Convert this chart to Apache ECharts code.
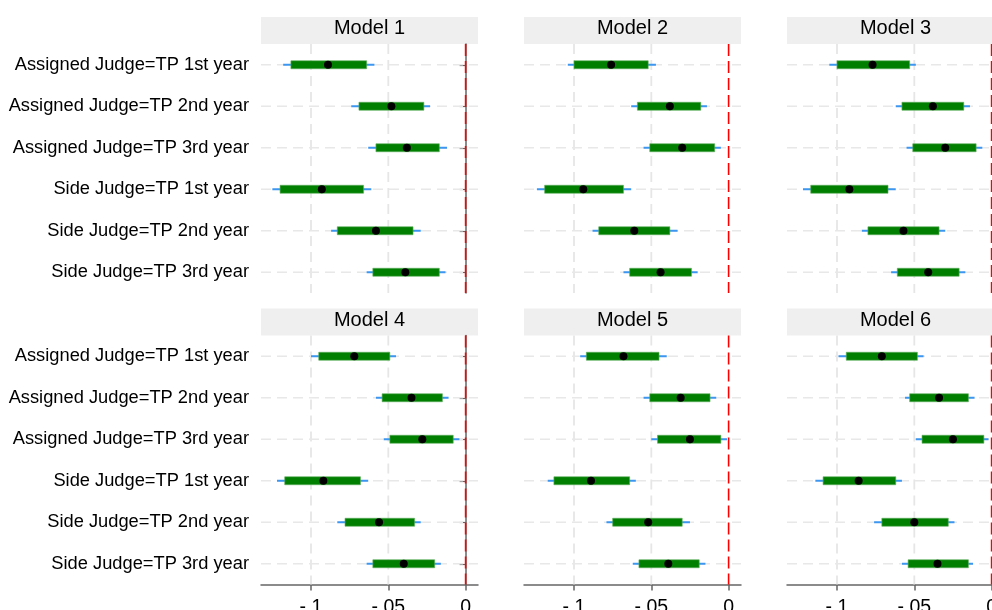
<!DOCTYPE html>
<html>
<head>
<meta charset="utf-8">
<script src="https://cdn.jsdelivr.net/npm/echarts@6/dist/echarts.min.js"></script>
<style>html,body{margin:0;padding:0;background:#fff}#chart{width:992px;height:610px}</style>
</head>
<body>
<div id="chart"></div>
<script>
const categories = ["Assigned Judge=TP 1st year","Assigned Judge=TP 2nd year","Assigned Judge=TP 3rd year","Side Judge=TP 1st year","Side Judge=TP 2nd year","Side Judge=TP 3rd year"];
const panelTitles = ["Model 1","Model 2","Model 3","Model 4","Model 5","Model 6"];
const tickValues = [-0.1, -0.05, 0];
const tickLabels = ["-.1", "-.05", "0"];
const gridValues = [-0.1, -0.05];
const refValue = [0];

// point estimates per model
const est = [
  [-0.089, -0.048, -0.038, -0.093, -0.058, -0.039],
  [-0.076, -0.038, -0.030, -0.094, -0.061, -0.044],
  [-0.077, -0.038, -0.030, -0.092, -0.057, -0.041],
  [-0.072, -0.035, -0.028, -0.092, -0.056, -0.040],
  [-0.068, -0.031, -0.025, -0.089, -0.052, -0.039],
  [-0.071, -0.034, -0.025, -0.086, -0.050, -0.035]
];
const lo90 = [
  [-0.113, -0.069, -0.058, -0.120, -0.083, -0.060],
  [-0.100, -0.059, -0.051, -0.119, -0.084, -0.064],
  [-0.100, -0.058, -0.051, -0.117, -0.080, -0.061],
  [-0.095, -0.054, -0.049, -0.117, -0.078, -0.060],
  [-0.092, -0.051, -0.046, -0.113, -0.075, -0.058],
  [-0.094, -0.053, -0.045, -0.109, -0.071, -0.054]
];
const hi90 = [
  [-0.064, -0.027, -0.017, -0.066, -0.034, -0.017],
  [-0.052, -0.018, -0.009, -0.068, -0.038, -0.024],
  [-0.053, -0.018, -0.010, -0.067, -0.034, -0.021],
  [-0.049, -0.015, -0.008, -0.068, -0.033, -0.020],
  [-0.045, -0.012, -0.005, -0.064, -0.030, -0.019],
  [-0.048, -0.015, -0.005, -0.062, -0.028, -0.015]
];
const lo95 = [
  [-0.118, -0.074, -0.063, -0.125, -0.087, -0.064],
  [-0.104, -0.063, -0.055, -0.124, -0.088, -0.068],
  [-0.105, -0.062, -0.055, -0.122, -0.084, -0.065],
  [-0.100, -0.058, -0.053, -0.122, -0.083, -0.064],
  [-0.096, -0.055, -0.050, -0.117, -0.079, -0.062],
  [-0.099, -0.056, -0.049, -0.114, -0.076, -0.058]
];
const hi95 = [
  [-0.059, -0.023, -0.012, -0.061, -0.029, -0.013],
  [-0.047, -0.014, -0.005, -0.063, -0.033, -0.020],
  [-0.049, -0.014, -0.006, -0.062, -0.030, -0.017],
  [-0.045, -0.011, -0.004, -0.063, -0.029, -0.016],
  [-0.040, -0.008, -0.001, -0.060, -0.025, -0.015],
  [-0.044, -0.011, -0.002, -0.058, -0.024, -0.012]
];

const FONT = "'Liberation Sans', Arial, sans-serif";
const CHART_W = 992;
const colLefts = [261, 524, 787];
const rowTops = [44, 335.5];
const panelW = 217, panelH = 249, headerH = 27;
const pxPerUnit = 1546;
const xMin = -204.6 / pxPerUnit;

const grids = [], xAxes = [], yAxes = [], series = [], graphics = [];
for (let m = 0; m < 6; m++) {
  const row = Math.floor(m / 3), col = m % 3;
  const left = colLefts[col], top = rowTops[row];
  const w = Math.min(panelW, CHART_W - left);
  const xMax = xMin + w / pxPerUnit;
  grids.push({left: left, top: top, width: w, height: panelH, containLabel: false, outerBoundsMode: 'none'});
  xAxes.push({
    type: 'value', gridIndex: m, min: xMin, max: xMax,
    axisLine: {show: row === 1, onZero: false, lineStyle: {color: '#666', width: 1.5}},
    axisTick: {show: row === 1, length: 6, customValues: tickValues, lineStyle: {color: '#666', width: 1.5}},
    axisLabel: {show: row === 1, customValues: tickValues, margin: 13, fontSize: 19.5, color: '#000', fontFamily: FONT,
      formatter: v => { const i = tickValues.findIndex(t => Math.abs(t - v) < 1e-9); return i >= 0 ? tickLabels[i] : ''; }},
    splitLine: {show: false}
  });
  yAxes.push({
    type: 'category', gridIndex: m, data: categories, inverse: true,
    axisLine: {show: col === 0, lineStyle: {color: '#666', width: 1.5}},
    axisTick: {show: col === 0, alignWithLabel: true, length: 6, lineStyle: {color: '#666', width: 1.2}},
    axisLabel: {show: col === 0, fontSize: 18.3, color: '#000', fontFamily: FONT, margin: 12},
    splitLine: {show: false}
  });
  // vertical grid lines
  series.push({
    type: 'custom', xAxisIndex: m, yAxisIndex: m, silent: true, z: 1,
    data: gridValues.map(v => [v, 0]),
    encode: {x: 0, y: 1},
    renderItem: function (params, api) {
      const cs = params.coordSys;
      const p = api.coord([api.value(0), 0]);
      return {type: 'line', shape: {x1: p[0], y1: cs.y, x2: p[0], y2: cs.y + cs.height},
        style: {stroke: '#e6e6e6', lineWidth: 1.8, lineDash: [10, 6]}};
    }
  });
  // horizontal grid lines + estimates
  const data = categories.map((c, k) => [lo95[m][k], hi95[m][k], lo90[m][k], hi90[m][k], est[m][k], k]);
  series.push({
    type: 'custom', xAxisIndex: m, yAxisIndex: m, silent: true, z: 2,
    data: data,
    encode: {x: [0, 1, 2, 3, 4], y: 5},
    renderItem: function (params, api) {
      const cs = params.coordSys;
      const k = api.value(5);
      const a95 = api.coord([api.value(0), k]);
      const b95 = api.coord([api.value(1), k]);
      const a90 = api.coord([api.value(2), k]);
      const b90 = api.coord([api.value(3), k]);
      const e = api.coord([api.value(4), k]);
      const y = e[1];
      return {type: 'group', children: [
        {type: 'line', shape: {x1: cs.x, y1: y, x2: cs.x + cs.width, y2: y}, style: {stroke: '#e8e8e8', lineWidth: 1.5, lineDash: [10, 6]}},
        {type: 'line', shape: {x1: a95[0], y1: y, x2: b95[0], y2: y}, style: {stroke: '#3d97f0', lineWidth: 1.8}},
        {type: 'rect', shape: {x: a90[0], y: y - 4, width: b90[0] - a90[0], height: 8}, style: {fill: '#007f00', stroke: '#5fae5f', lineWidth: 0.6}},
        {type: 'circle', shape: {cx: e[0], cy: y, r: 4}, style: {fill: '#000'}}
      ]};
    }
  });
  // reference line at zero
  series.push({
    type: 'custom', xAxisIndex: m, yAxisIndex: m, silent: true, z: 3,
    data: refValue.map(v => [v, 0]),
    encode: {x: 0, y: 1},
    renderItem: function (params, api) {
      const cs = params.coordSys;
      const p = api.coord([api.value(0), 0]);
      return {type: 'line', shape: {x1: p[0], y1: cs.y, x2: p[0], y2: cs.y + cs.height},
        style: {stroke: '#ff0000', lineWidth: 1.6, lineDash: [12, 5]}};
    }
  });
  graphics.push({type: 'rect', left: left, top: top - headerH, shape: {width: panelW, height: headerH}, style: {fill: '#efefef'}, silent: true});
  graphics.push({type: 'text', x: left + panelW / 2, y: top - headerH / 2 - 2, style: {text: panelTitles[m], fill: '#000', font: '20px ' + FONT, textAlign: 'center', textVerticalAlign: 'middle'}, silent: true});
}

const chart = echarts.init(document.getElementById('chart'), null, {renderer: 'canvas'});
chart.setOption({
  animation: false,
  backgroundColor: '#fff',
  grid: grids, xAxis: xAxes, yAxis: yAxes, series: series, graphic: graphics
});
</script>
</body>
</html>
